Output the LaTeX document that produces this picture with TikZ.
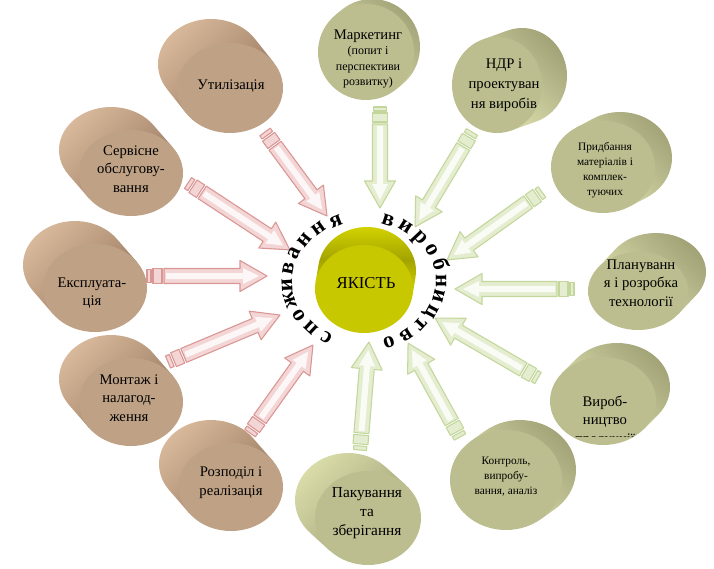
\documentclass[tikz,border=0pt]{standalone}
\usepackage{fontspec}
\setmainfont{Liberation Serif}
\usetikzlibrary{calc}

\definecolor{brfront}{HTML}{BFA185}
\definecolor{brlight}{HTML}{DCBC9E}
\definecolor{brmid}{HTML}{BC9C80}
\definecolor{brdark}{HTML}{977A62}
\definecolor{grfront}{HTML}{BDBE8F}
\definecolor{grlight}{HTML}{DCDFAA}
\definecolor{grmid}{HTML}{BEC092}
\definecolor{grdark}{HTML}{9D9E72}
\definecolor{ylfront}{HTML}{C8C800}
\definecolor{yllight}{HTML}{D6D600}
\definecolor{ylmid}{HTML}{A3A300}
\definecolor{yldark}{HTML}{D6D600}
\definecolor{pkline}{HTML}{D99694}
\definecolor{pkfill}{HTML}{F2D5D4}
\definecolor{gnline}{HTML}{C3D69B}
\definecolor{gnfill}{HTML}{E4EDCF}

\tikzset{
    cyltext/.style={align=center, inner sep=0pt, font=\fontsize{11}{14}\selectfont},
    smalltext/.style={align=center, inner sep=0pt, font=\fontsize{8.5}{11.3}\selectfont},
    ring/.style={inner sep=0pt, anchor=base, font=\fontsize{17}{20}\bfseries\selectfont},
    pk arrow/.style={draw=pkline, fill=pkfill, line width=0.8pt, line join=round},
    gn arrow/.style={draw=gnline, fill=gnfill, line width=0.8pt, line join=round}
}

% block arrow with two stripes at the tail: tail, tip, colour
\newcommand\qarrow[3]{%
    \path let \p1=($(#2)-(#1)$) in
        \pgfextra{\pgfmathparse{atan2(\y1,\x1)}\xdef\arang{\pgfmathresult}%
            \pgfmathparse{veclen(\x1,\y1)/0.75}\xdef\arlen{\pgfmathresult}};
    \begin{scope}[shift={(#1)}, rotate=\arang, x=0.75pt, y=0.75pt]
        \draw[#3 arrow] (17,-7.5) -- ({\arlen-27},-7.5) -- ({\arlen-27},-15.5) -- (\arlen,0)
            -- ({\arlen-27},15.5) -- ({\arlen-27},7.5) -- (17,7.5) -- cycle;
        \fill[white, opacity=.8] (19,-3) -- ({\arlen-24},-3) -- ({\arlen-24},-8) -- ({\arlen-8},0)
            -- ({\arlen-24},8) -- ({\arlen-24},3) -- (19,3) -- cycle;
        \draw[#3 arrow] (0,-6.5) rectangle (4,6.5);
        \draw[#3 arrow] (6,-7.5) rectangle (15,7.5);
    \end{scope}}

\begin{document}
\begin{tikzpicture}[x=0.75pt, y=-0.75pt]
    \useasboundingbox (0,0) rectangle (714,568);

    % cylinders: front centre, radii, offset of the back, colour, shading angle
    \foreach \cx/\cy/\rx/\ry/\dx/\dy/\kind/\sa in {
        230/88/53/45/-19/-24/br/45,
        131/173/52/43/-20/-23/br/45,
        95/288/52/44/-20/-23/br/45,
        131/402/52/44/-20/-23/br/45,
        231/487/52/44/-20/-23/br/45,
        366/52/48/48/6/-5/gr/135,
        497/85/45/48/25/-9/gr/135,
        603/167/52/46/17/-9/gr/135,
        638/291/50/39/18/-19/gr/135,
        603/401/53/44/14/-14/gr/135,
        506/480/56/50/14/-10/gr/135,
        368/518/53/47/-20/-18/gr/45,
        364/289/49/44/3/-18/yl/0}
    {
        \pgfmathsetmacro\tp{atan2(\dx*\ry,-\dy*\rx)}
        \pgfmathsetmacro\px{\rx*cos(\tp)}
        \pgfmathsetmacro\py{\ry*sin(\tp)}
        \path[left color=\kind light, right color=\kind dark, middle color=\kind mid, shading angle=\sa]
            ({\cx+\px},{\cy+\py}) -- ({\cx+\dx+\px},{\cy+\dy+\py})
            arc[start angle=\tp, end angle=\tp-180, x radius=\rx, y radius=\ry]
            -- ({\cx-\px},{\cy-\py}) -- cycle;
        \fill[\kind front] (\cx,\cy) ellipse[x radius=\rx, y radius=\ry];
    }

    % arrow ends
    \coordinate (utl-a) at (265,132);  \coordinate (utl-b) at (327,216);
    \coordinate (srv-a) at (188,183);  \coordinate (srv-b) at (290,250);
    \coordinate (exp-a) at (147,276);  \coordinate (exp-b) at (267,276);
    \coordinate (mnt-a) at (168,362);  \coordinate (mnt-b) at (280,315);
    \coordinate (roz-a) at (250,433);  \coordinate (roz-b) at (313,345);
    \coordinate (mrk-a) at (380,107);  \coordinate (mrk-b) at (380,208);
    \coordinate (ndr-a) at (472,132);  \coordinate (ndr-b) at (415,227);
    \coordinate (prd-a) at (542,192);  \coordinate (prd-b) at (447,260);
    \coordinate (pln-a) at (574,289);  \coordinate (pln-b) at (455,289);
    \coordinate (vyr-a) at (538,378);  \coordinate (vyr-b) at (435,318);
    \coordinate (ktr-a) at (460,437);  \coordinate (ktr-b) at (408,343);
    \coordinate (pak-a) at (360,450);  \coordinate (pak-b) at (369,342);

    \qarrow{utl-a}{utl-b}{pk}
    \qarrow{srv-a}{srv-b}{pk}
    \qarrow{exp-a}{exp-b}{pk}
    \qarrow{mnt-a}{mnt-b}{pk}
    \qarrow{roz-a}{roz-b}{pk}
    \qarrow{mrk-a}{mrk-b}{gn}
    \qarrow{ndr-a}{ndr-b}{gn}
    \qarrow{prd-a}{prd-b}{gn}
    \qarrow{pln-a}{pln-b}{gn}
    \qarrow{vyr-a}{vyr-b}{gn}
    \qarrow{ktr-a}{ktr-b}{gn}
    \qarrow{pak-a}{pak-b}{gn}

    % text round the centre
    \foreach \ch [count=\i] in {с,п,о,ж,и,в,а,н,н,я}{
        \pgfmathsetmacro\ang{241-(\i-1)*14.4}
        \node[ring, rotate=\ang-90] (sp\i) at ({364+72*cos(\ang)},{281-59*sin(\ang)}) {\ch};
    }
    \foreach \ch [count=\i] in {в,и,р,о,б,н,и,ц,т,в,о}{
        \pgfmathsetmacro\ang{71.8-(\i-1)*14.3}
        \node[ring, rotate=\ang-90] (vr\i) at ({364+72*cos(\ang)},{281-59*sin(\ang)}) {\ch};
    }

    \node[cyltext, font=\fontsize{12.5}{15}\selectfont] (yak) at (366,283) {ЯКІСТЬ};

    \node[cyltext] (utl) at (231,86) {Утилізація};
    \node[cyltext] (srv) at (131,169) {Сервісне\\обслугову-\\вання};
    \node[cyltext] (exp) at (92,293) {Експлуата-\\ція};
    \node[cyltext] (mnt) at (129,398) {Монтаж і\\налагод-\\ження};
    \node[cyltext] (roz) at (231,483) {Розподіл і\\реалізація};
    \node[cyltext, font=\fontsize{9}{11.3}\selectfont] (mrk) at (368,59)
        {{\fontsize{11}{13}\selectfont Маркетинг}\\(попит і\\перспективи\\розвитку)};
    \node[cyltext, font=\fontsize{11}{15}\selectfont] (ndr) at (504,85) {НДР і\\проектуван\\ня виробів};
    \node[smalltext] (prd) at (605,170) {Придбання\\матеріалів і\\комплек-\\туючих};
    \node[cyltext] (pln) at (641,283) {Плануванн\\я і розробка\\технології};
    \begin{scope}
        \clip (545,380) rectangle (665,436);
        \node[cyltext] (vyr) at (605,421) {Вироб-\\ництво\\продукції};
    \end{scope}
    \node[smalltext] (ktr) at (506,477) {Контроль,\\випробу-\\вання, аналіз};
    \node[cyltext, font=\fontsize{11.5}{14}\selectfont] (pak) at (367,513) {Пакування\\та\\зберігання};
\end{tikzpicture}
\end{document}
